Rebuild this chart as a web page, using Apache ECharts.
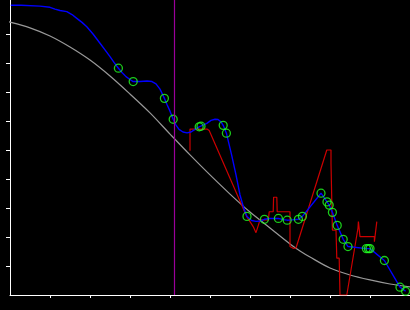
<!DOCTYPE html>
<html><head><meta charset="utf-8">
<script src="https://cdn.jsdelivr.net/npm/echarts@6/dist/echarts.min.js"></script>
<style>html,body{margin:0;padding:0;background:#000;}#c{width:410px;height:310px;}</style>
</head><body><div id="c"></div>
<script>
// Reference (gray) curve
const grayX = [-0.25,0.025,0.5,1.0,1.5,2.0,2.5,3.0,3.5,4.0,4.5,5.0,5.5,6.0,6.5,7.0,7.25,7.5,8.0,8.5,9.0,9.5,10.0];
const grayY = [9.48,9.40,9.21,8.93,8.55,8.10,7.55,6.93,6.28,5.55,4.83,4.14,3.48,2.86,2.31,1.76,1.52,1.31,0.93,0.69,0.52,0.38,0.28];
// Blue fitted curve
const blueX = [0.02,0.275,0.3,0.75,0.775,1.0,1.025,1.125,1.25,1.42,1.55,1.67,1.8,1.92,2.075,2.25,2.375,2.5,2.6,2.71,2.8,2.9,3.0,3.08,3.25,3.425,3.55,3.65,3.75,3.86,3.925,4.0,4.08,4.15,4.225,4.325,4.425,4.525,4.625,4.73,4.775,4.92,5.025,5.125,5.2,5.275,5.33,5.41,5.54,5.65,5.75,5.85,5.925,6.04,6.15,6.25,6.36,6.5,6.71,6.825,6.93,7.05,7.21,7.31,7.775,7.925,7.98,8.06,8.18,8.33,8.45,8.91,8.96,9.0,9.36,9.75,9.89];
const blueY = [9.99,9.99,9.96,9.96,9.92,9.92,9.89,9.86,9.81,9.77,9.67,9.54,9.40,9.25,9.0,8.68,8.45,8.22,8.02,7.82,7.67,7.53,7.43,7.36,7.36,7.38,7.36,7.28,7.10,6.78,6.57,6.34,6.06,5.86,5.71,5.62,5.59,5.62,5.71,5.80,5.82,5.92,6.02,6.06,6.05,5.97,5.85,5.58,4.83,4.14,3.45,2.97,2.71,2.57,2.54,2.55,2.61,2.64,2.64,2.60,2.58,2.59,2.61,2.71,3.51,3.21,3.10,2.85,2.40,1.92,1.67,1.60,1.60,1.60,1.19,0.27,0.13];
// Green sample points
const ptsX = [2.71,3.08,3.86,4.08,4.73,4.775,5.33,5.41,5.925,6.36,6.71,6.93,7.21,7.31,7.775,7.925,7.98,8.06,8.18,8.33,8.45,8.91,8.96,9.0,9.36,9.75,9.89];
const ptsY = [7.82,7.36,6.78,6.06,5.80,5.82,5.85,5.58,2.71,2.61,2.64,2.58,2.61,2.71,3.51,3.21,3.10,2.85,2.40,1.92,1.67,1.60,1.60,1.60,1.19,0.27,0.13];
// Red raw signal
const redX = [4.5,4.5,4.925,4.98,5.92,6.08,6.15,6.21,6.25,6.46,6.48,6.58,6.59,6.67,6.68,7.0,7.0,7.08,7.15,7.92,8.025,8.025,8.06,8.06,8.15,8.17,8.23,8.25,8.42,8.7,8.71,8.75,8.75,9.11,9.11,9.15,9.17];
const redY = [4.97,5.72,5.72,5.67,2.70,2.36,2.15,2.41,2.59,2.59,2.87,2.87,3.37,3.37,2.87,2.87,1.67,1.61,1.62,5.0,5.0,4.54,4.54,2.24,2.24,1.27,1.27,0,0,2.31,2.53,2.53,2.01,2.01,1.84,1.84,2.53];
// Vertical marker
const markerX = [4.11];
const xTicks = [1,2,3,4,5,6,7,8,9];
const yTicks = [1,2,3,4,5,6,7,8,9];

const zip = (a,b) => a.map((v,i)=>[v,b[i]]);
const chart = echarts.init(document.getElementById('c'), null, {renderer:'canvas'});
chart.setOption({
  backgroundColor:'#000',
  animation:false,
  grid:{left:10,right:0,top:0,bottom:15,containLabel:false},
  xAxis:{type:'value',min:0,max:10,
    axisLine:{show:true,onZero:false,lineStyle:{color:'#fff',width:1}},
    axisTick:{show:true,customValues:xTicks,length:3,lineStyle:{color:'#fff',width:1}},
    axisLabel:{show:false},splitLine:{show:false}},
  yAxis:{type:'value',min:0,max:10.172,
    axisLine:{show:true,onZero:false,lineStyle:{color:'#fff',width:1}},
    axisTick:{show:true,customValues:yTicks,length:4,lineStyle:{color:'#fff',width:1}},
    axisLabel:{show:false},splitLine:{show:false}},
  series:[
    {type:'line',data:zip(grayX,grayY),showSymbol:false,clip:false,smooth:0.3,
      lineStyle:{color:'#999999',width:1.2},z:1,
      markLine:{silent:true,symbol:'none',label:{show:false},
        lineStyle:{color:'#9a009a',width:1.2,type:'solid'},
        data:markerX.map(v=>({xAxis:v}))}},
    {type:'line',data:zip(redX,redY),showSymbol:false,lineStyle:{color:'#cc0000',width:1.2},z:2},
    {type:'line',data:zip(blueX,blueY),showSymbol:false,lineStyle:{color:'#0000ff',width:1.4},z:3},
    {type:'scatter',data:zip(ptsX,ptsY),symbol:'circle',symbolSize:8,
      itemStyle:{color:'rgba(0,0,0,0)',borderColor:'#22ff22',borderWidth:1.3},z:4}
  ]
});
</script></body></html>
